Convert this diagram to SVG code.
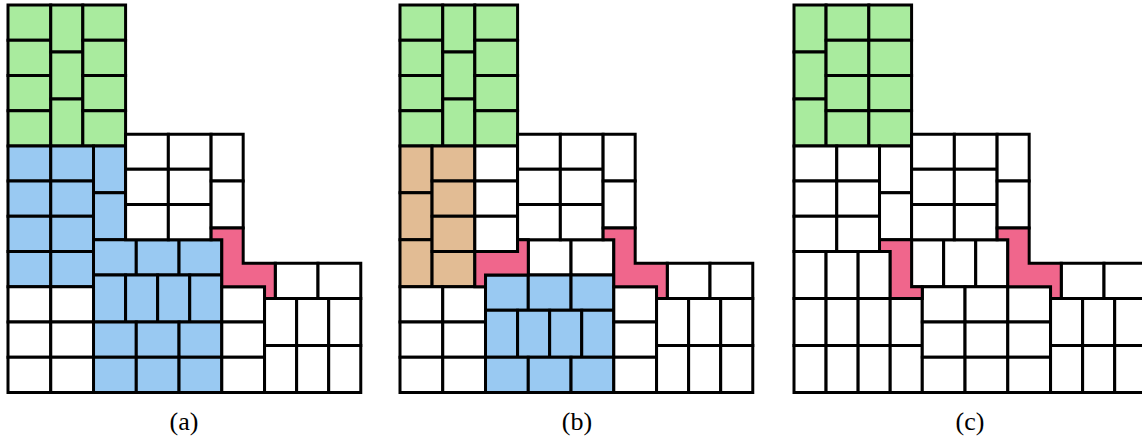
<svg xmlns="http://www.w3.org/2000/svg" width="1142" height="439" viewBox="0 0 1142 439">
<style>
  rect, polygon { vector-effect: non-scaling-stroke; }
  .t { stroke: #000; stroke-width: 3; stroke-linejoin: miter; }
  .w { fill: #ffffff; }
  .g { fill: #a9eb9e; }
  .b { fill: #99c9f2; }
  .n { fill: #e2bc94; }
  .p { fill: #f0668c; }
  .lbl { font-family: "Liberation Serif", "DejaVu Serif", serif; font-size: 26px; fill: #000; text-anchor: middle; }
</style>
<defs>
  <rect id="H" width="4" height="3" vector-effect="non-scaling-stroke"/>
  <rect id="V" width="3" height="4" vector-effect="non-scaling-stroke"/>
  <g id="rightpart" class="t w">
    <use href="#H" x="11" y="11"/><use href="#H" x="15" y="11"/>
    <use href="#H" x="11" y="14"/><use href="#H" x="15" y="14"/>
    <use href="#H" x="11" y="17"/><use href="#H" x="15" y="17"/>
    <use href="#V" x="19" y="11"/><use href="#V" x="19" y="15"/>
    <use href="#H" x="20" y="24"/><use href="#H" x="20" y="27"/><use href="#H" x="20" y="30"/>
    <use href="#H" x="25" y="22"/><use href="#H" x="29" y="22"/>
    <use href="#V" x="24" y="25"/><use href="#V" x="27" y="25"/><use href="#V" x="30" y="25"/>
    <use href="#V" x="24" y="29"/><use href="#V" x="27" y="29"/><use href="#V" x="30" y="29"/>
  </g>
  <polygon id="pinkR" class="t p" vector-effect="non-scaling-stroke" points="19,19 22,19 22,22 25,22 25,25 24,25 24,24 20,24 20,20 19,20"/>
</defs>

<g id="panel-a" transform="translate(8,5) scale(10.69,11.74)">
  <g id="a-green" class="t g">
    <use href="#H" x="0" y="0"/><use href="#H" x="0" y="3"/><use href="#H" x="0" y="6"/><use href="#H" x="0" y="9"/>
    <use href="#V" x="4" y="0"/><use href="#V" x="4" y="4"/><use href="#V" x="4" y="8"/>
    <use href="#H" x="7" y="0"/><use href="#H" x="7" y="3"/><use href="#H" x="7" y="6"/><use href="#H" x="7" y="9"/>
  </g>
  <g id="a-blue" class="t b">
    <use href="#H" x="0" y="12"/><use href="#H" x="0" y="15"/><use href="#H" x="0" y="18"/><use href="#H" x="0" y="21"/>
    <use href="#H" x="4" y="12"/><use href="#H" x="4" y="15"/><use href="#H" x="4" y="18"/><use href="#H" x="4" y="21"/>
    <use href="#V" x="8" y="12"/><use href="#V" x="8" y="16"/>
    <use href="#H" x="8" y="20"/><use href="#H" x="12" y="20"/><use href="#H" x="16" y="20"/>
    <use href="#V" x="8" y="23"/><use href="#V" x="11" y="23"/><use href="#V" x="14" y="23"/><use href="#V" x="17" y="23"/>
    <use href="#H" x="8" y="27"/><use href="#H" x="12" y="27"/><use href="#H" x="16" y="27"/>
    <use href="#H" x="8" y="30"/><use href="#H" x="12" y="30"/><use href="#H" x="16" y="30"/>
  </g>
  <g id="a-white" class="t w">
    <use href="#H" x="0" y="24"/><use href="#H" x="0" y="27"/><use href="#H" x="0" y="30"/>
    <use href="#H" x="4" y="24"/><use href="#H" x="4" y="27"/><use href="#H" x="4" y="30"/>
  </g>
  <use href="#rightpart"/>
  <use id="a-pink" href="#pinkR"/>
</g>

<g id="panel-b" transform="translate(400,5) scale(10.69,11.74)">
  <g id="b-green" class="t g">
    <use href="#H" x="0" y="0"/><use href="#H" x="0" y="3"/><use href="#H" x="0" y="6"/><use href="#H" x="0" y="9"/>
    <use href="#V" x="4" y="0"/><use href="#V" x="4" y="4"/><use href="#V" x="4" y="8"/>
    <use href="#H" x="7" y="0"/><use href="#H" x="7" y="3"/><use href="#H" x="7" y="6"/><use href="#H" x="7" y="9"/>
  </g>
  <g id="b-tan" class="t n">
    <use href="#V" x="0" y="12"/><use href="#V" x="0" y="16"/><use href="#V" x="0" y="20"/>
    <use href="#H" x="3" y="12"/><use href="#H" x="3" y="15"/><use href="#H" x="3" y="18"/><use href="#H" x="3" y="21"/>
  </g>
  <g id="b-white" class="t w">
    <use href="#H" x="7" y="12"/><use href="#H" x="7" y="15"/><use href="#H" x="7" y="18"/>
    <use href="#H" x="12" y="20"/><use href="#H" x="16" y="20"/>
    <use href="#H" x="0" y="24"/><use href="#H" x="0" y="27"/><use href="#H" x="0" y="30"/>
    <use href="#H" x="4" y="24"/><use href="#H" x="4" y="27"/><use href="#H" x="4" y="30"/>
  </g>
  <g id="b-blue" class="t b">
    <use href="#H" x="8" y="23"/><use href="#H" x="12" y="23"/><use href="#H" x="16" y="23"/>
    <use href="#V" x="8" y="26"/><use href="#V" x="11" y="26"/><use href="#V" x="14" y="26"/><use href="#V" x="17" y="26"/>
    <use href="#H" x="8" y="30"/><use href="#H" x="12" y="30"/><use href="#H" x="16" y="30"/>
  </g>
  <use href="#rightpart"/>
  <polygon id="b-pinkL" class="t p" vector-effect="non-scaling-stroke" points="11,20 12,20 12,23 8,23 8,24 7,24 7,21 11,21"/>
  <use id="b-pinkR" href="#pinkR"/>
</g>

<g id="panel-c" transform="translate(794,5) scale(10.69,11.74)">
  <g id="c-green" class="t g">
    <use href="#V" x="0" y="0"/><use href="#V" x="0" y="4"/><use href="#V" x="0" y="8"/>
    <use href="#H" x="3" y="0"/><use href="#H" x="3" y="3"/><use href="#H" x="3" y="6"/><use href="#H" x="3" y="9"/>
    <use href="#H" x="7" y="0"/><use href="#H" x="7" y="3"/><use href="#H" x="7" y="6"/><use href="#H" x="7" y="9"/>
  </g>
  <g id="c-white" class="t w">
    <use href="#H" x="0" y="12"/><use href="#H" x="0" y="15"/><use href="#H" x="0" y="18"/>
    <use href="#H" x="4" y="12"/><use href="#H" x="4" y="15"/><use href="#H" x="4" y="18"/>
    <use href="#V" x="8" y="12"/><use href="#V" x="8" y="16"/>
    <use href="#V" x="11" y="20"/><use href="#V" x="14" y="20"/><use href="#V" x="17" y="20"/>
    <use href="#V" x="0" y="21"/><use href="#V" x="3" y="21"/><use href="#V" x="6" y="21"/>
    <use href="#V" x="0" y="25"/><use href="#V" x="3" y="25"/><use href="#V" x="6" y="25"/><use href="#V" x="9" y="25"/>
    <use href="#V" x="0" y="29"/><use href="#V" x="3" y="29"/><use href="#V" x="6" y="29"/><use href="#V" x="9" y="29"/>
    <use href="#H" x="12" y="24"/><use href="#H" x="16" y="24"/>
    <use href="#H" x="12" y="27"/><use href="#H" x="16" y="27"/>
    <use href="#H" x="12" y="30"/><use href="#H" x="16" y="30"/>
  </g>
  <use href="#rightpart"/>
  <polygon id="c-pinkL" class="t p" vector-effect="non-scaling-stroke" points="8,20 11,20 11,24 12,24 12,25 9,25 9,21 8,21"/>
  <use id="c-pinkR" href="#pinkR"/>
</g>

<g id="labels">
  <text class="lbl" x="184" y="430">(a)</text>
  <text class="lbl" x="577" y="430">(b)</text>
  <text class="lbl" x="970" y="430">(c)</text>
</g>
</svg>
